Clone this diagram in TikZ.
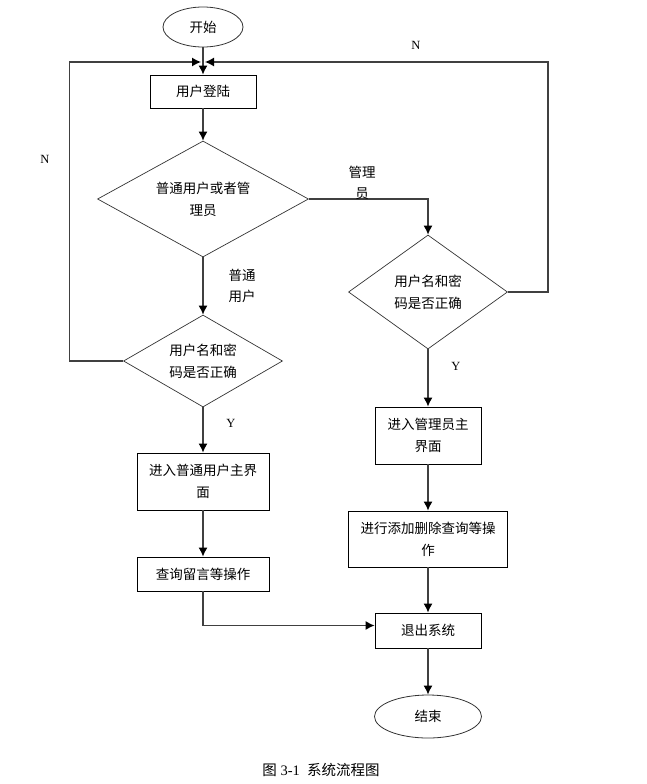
\documentclass[tikz,border=0pt]{standalone}
\usepackage{fontspec}
\setmainfont{Liberation Serif}
\newfontfamily\cjk{Noto Sans CJK SC}
\usetikzlibrary{shapes.geometric,arrows.meta}

\begin{document}
\begin{tikzpicture}[yscale=-1
  ,pstyle0/.style={draw=black,line width=0.8pt,rectangle,inner sep=0pt,align=center,font=\cjk\fontsize{13.5pt}{22pt}\selectfont}
  ,pstyle1/.style={draw=black!75,line width=1.3pt,-{Latex[length=9pt,width=9pt,color=black]}}
  ,pstyle2/.style={draw=black!80,line width=0.7pt,diamond,inner sep=0pt,align=center,font=\cjk\fontsize{13.5pt}{22pt}\selectfont}
  ,pstyle3/.style={draw=black!80,line width=0.8pt,ellipse,inner sep=0pt,font=\cjk\fontsize{13.5pt}{22pt}\selectfont}
  ,pstyle4/.style={font=\fontsize{12.5pt}{14pt}\selectfont}
  ,pstyle5/.style={align=center,font=\cjk\fontsize{13.5pt}{21pt}\selectfont}
]
\useasboundingbox (0pt,0pt) rectangle (647pt,784pt);

% --- start and login ---
\node[pstyle3,minimum width=80pt,minimum height=40pt] (start) at (203pt,27pt) {开始};
\coordinate (join) at (203pt,62pt);
\node[pstyle0,minimum width=106pt,minimum height=33pt] (login) at (203pt,91.5pt) {用户登陆};

% --- decisions ---
\node[pstyle2,minimum width=211pt,minimum height=116pt,aspect=1.8] (type) at (203pt,199pt) {普通用户或者管\\理员};
\node[pstyle2,minimum width=159pt,minimum height=114pt,aspect=1.4] (admchk) at (428pt,292pt) {用户名和密\\码是否正确};
\node[pstyle2,minimum width=159pt,minimum height=92pt,aspect=1.7] (usrchk) at (203pt,361pt) {用户名和密\\码是否正确};

% --- user branch ---
\node[pstyle0,minimum width=132pt,minimum height=57pt] (usrmain) at (203pt,481.5pt) {进入普通用户主界\\面};
\node[pstyle0,minimum width=132pt,minimum height=34pt] (usrop) at (203pt,574pt) {查询留言等操作};

% --- admin branch ---
\node[pstyle0,minimum width=106pt,minimum height=57pt] (admmain) at (428pt,435.5pt) {进入管理员主\\界面};
\node[pstyle0,minimum width=159pt,minimum height=56pt] (admop) at (428pt,539pt) {进行添加删除查询等操\\作};

% --- end ---
\node[pstyle0,minimum width=106pt,minimum height=35pt] (quit) at (428pt,630.5pt) {退出系统};
\node[pstyle3,minimum width=107pt,minimum height=43pt] (stop) at (428pt,716.5pt) {结束};

% --- arrows ---
\draw[pstyle1] (start) -- (login);
\draw[pstyle1] (login) -- (type);
\draw[pstyle1] (type.east) -| (admchk.north);
\draw[pstyle1] (type.south) -- (usrchk.north);
\draw[pstyle1,shorten >=2pt] (admchk.east) -- ++(40pt,0pt) |- (join);
\draw[pstyle1,shorten >=2pt] (usrchk.west) -- ++(-54pt,0pt) |- (join);
\draw[pstyle1] (admchk.south) -- (admmain.north);
\draw[pstyle1] (usrchk.south) -- (usrmain.north);
\draw[pstyle1] (usrmain) -- (usrop);
\draw[pstyle1] (admmain) -- (admop);
\draw[pstyle1] (admop) -- (quit);
\draw[pstyle1] (usrop.south) |- ([yshift=-5pt]quit.west);
\draw[pstyle1] (quit) -- (stop);

% --- labels ---
\node[pstyle4] (lbln1) at (416pt,45pt) {N};
\node[pstyle4] (lbln2) at (45pt,159pt) {N};
\node[pstyle4] (lbly1) at (456pt,366pt) {Y};
\node[pstyle4] (lbly2) at (231pt,423pt) {Y};
\node[pstyle5] (lbladm) at (362pt,182.5pt) {管理\\员};
\node[pstyle5] (lblusr) at (242pt,285.5pt) {普通\\用户};

\node[font=\fontsize{14.5pt}{16pt}\selectfont] (caption) at (321pt,770pt) {{\cjk 图} 3-1\ \ {\cjk 系统流程图}};

\end{tikzpicture}
\end{document}
